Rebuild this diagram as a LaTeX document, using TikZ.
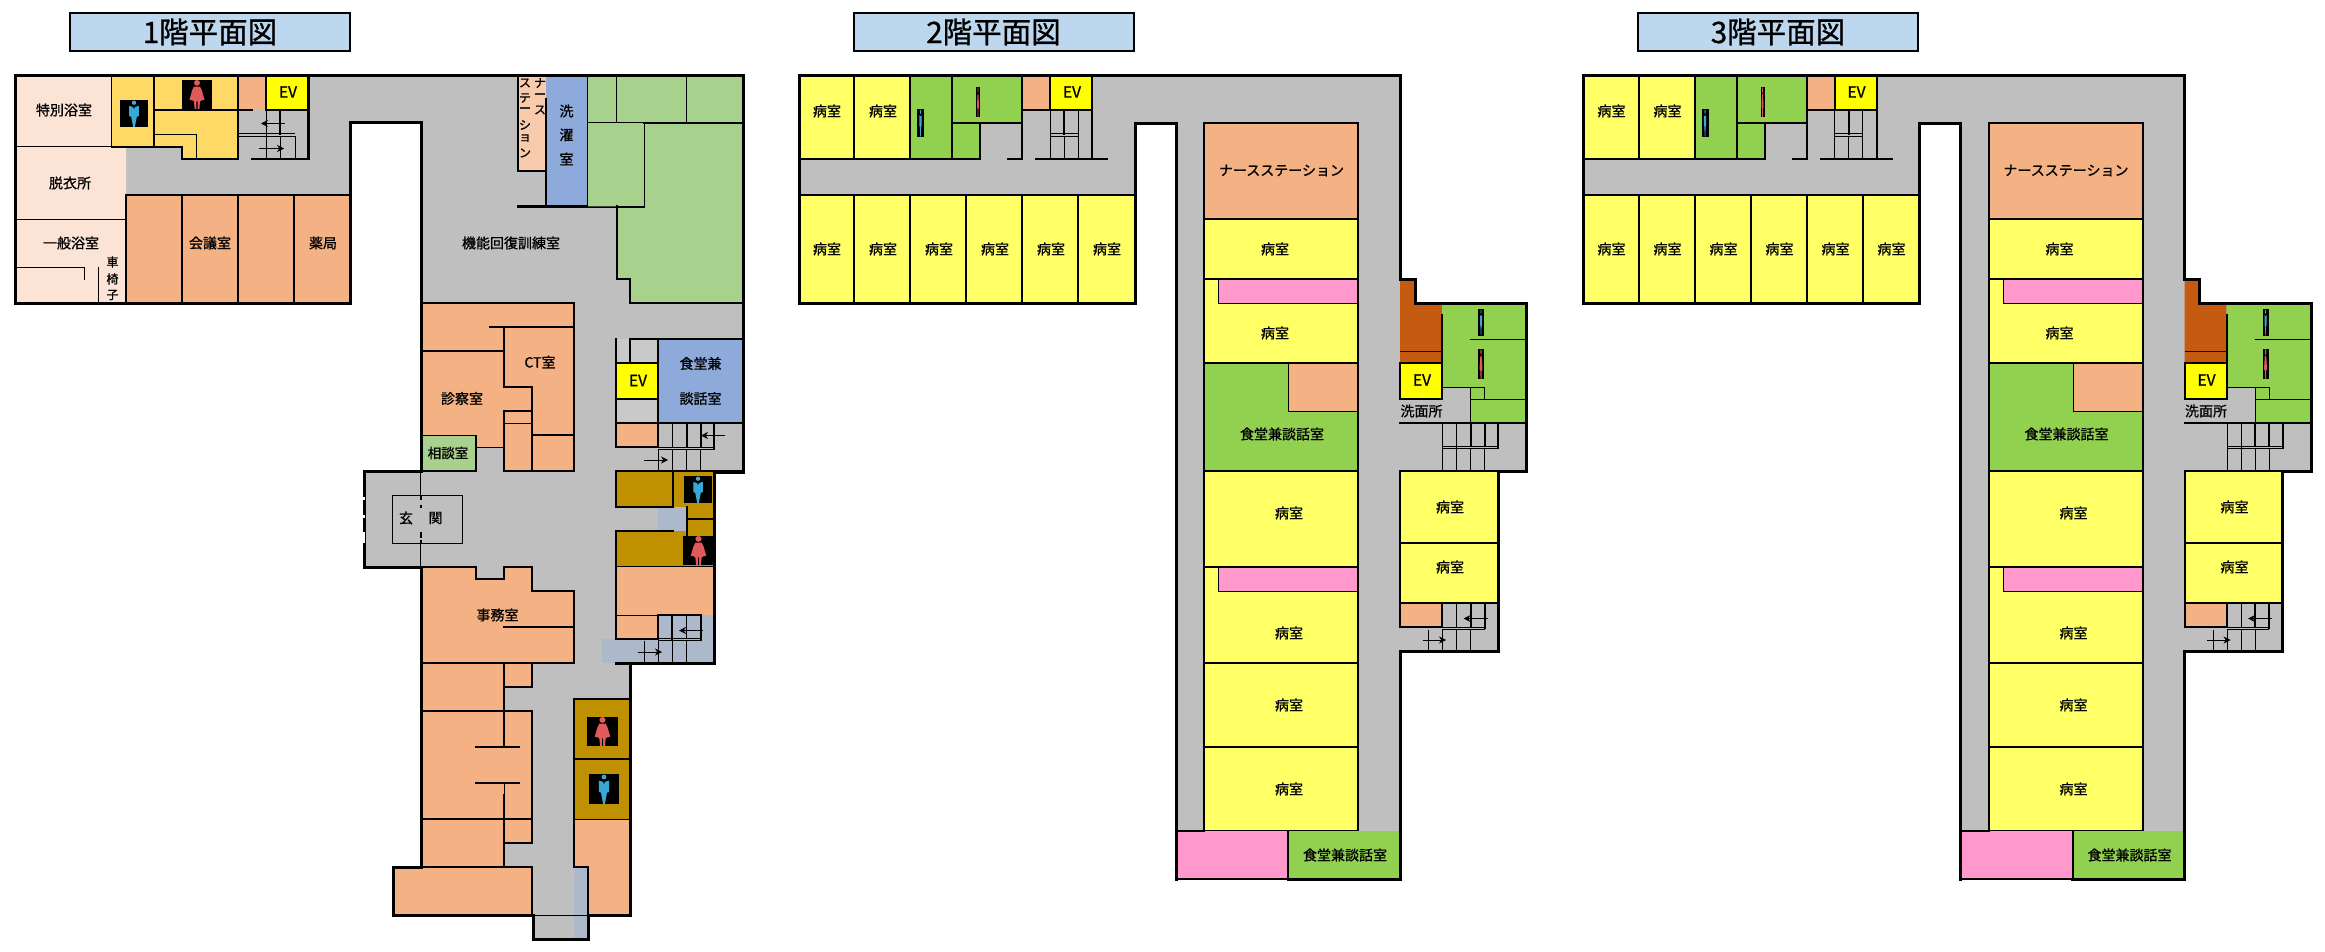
\documentclass[tikz,border=0pt]{standalone}
\usepackage{fontspec}
\setmainfont{Noto Sans CJK JP}[FakeBold=0.9]
\usetikzlibrary{arrows.meta}
\definecolor{corridor}{HTML}{BFBFBF}
\definecolor{lightcorr}{HTML}{C9C9C9}
\definecolor{peach}{HTML}{F4B183}
\definecolor{palepeach}{HTML}{F8CBAD}
\definecolor{bathpink}{HTML}{FBE3D6}
\definecolor{wcyellow}{HTML}{FFD966}
\definecolor{wardyellow}{HTML}{FFFF66}
\definecolor{evyellow}{HTML}{FFFF00}
\definecolor{sagegreen}{HTML}{A9D18E}
\definecolor{brightgreen}{HTML}{92D050}
\definecolor{bluegroup}{HTML}{8EAADB}
\definecolor{stairblue}{HTML}{ADB9CA}
\definecolor{wcbrown}{HTML}{BF9000}
\definecolor{rust}{HTML}{C55A11}
\definecolor{rosepink}{HTML}{FF99CC}
\definecolor{titleblue}{HTML}{BDD7EE}
\definecolor{manblue}{HTML}{3AA8D4}
\definecolor{womanred}{HTML}{E05A5A}
\tikzset{
	wall/.style={line width=3pt,line cap=rect},
	partition/.style={line width=2pt,line cap=rect},
	hair/.style={line width=1pt},
	roomlabel/.style={inner sep=0pt,font=\fontsize{14}{16}\selectfont},
	smalllabel/.style={inner sep=0pt,font=\fontsize{12}{14}\selectfont},
	evlabel/.style={inner sep=0pt,font=\fontsize{15.5}{17}\selectfont},
	titlebox/.style={draw,line width=2pt,fill=titleblue,minimum width=280pt,minimum height=38pt,inner sep=0pt,font=\fontsize{29.5}{32}\selectfont},
	walkdir/.style={line width=0.8pt,-{Stealth[length=7pt,width=7pt]}},
}
% x, y, width, height of the black plate
\newcommand{\manicon}[4]{
	\fill[black] (#1,#2) rectangle ++(#3,#4);
	\begin{scope}[shift={(#1,#2)},xscale=#3,yscale=#4]
		\fill[manblue] (0.5,0.1) circle (0.08);
		\fill[manblue] (0.33,0.22)--(0.47,0.26)--(0.5,0.36)--(0.53,0.26)--(0.67,0.22)--(0.67,0.6)--(0.6,0.62)--(0.53,1)--(0.47,1)--(0.4,0.62)--(0.33,0.6)--cycle;
	\end{scope}
}
\newcommand{\womanicon}[4]{
	\fill[black] (#1,#2) rectangle ++(#3,#4);
	\begin{scope}[shift={(#1,#2)},xscale=#3,yscale=#4]
		\fill[womanred] (0.5,0.1) circle (0.1);
		\fill[womanred] (0.4,0.23)--(0.6,0.23)--(0.66,0.35)--(0.75,0.68)--(0.66,0.7)--(0.6,0.74)--(0.58,1)--(0.52,1)--(0.52,0.74)--(0.48,0.74)--(0.48,1)--(0.42,1)--(0.4,0.74)--(0.34,0.7)--(0.25,0.68)--(0.34,0.35)--cycle;
	\end{scope}
}
\begin{document}
\begin{tikzpicture}[x=1pt,y=-1pt]
	\useasboundingbox (0,0) rectangle (2325,952);
	% first floor
	\node[titlebox] (title1) at (210,32) {1階平面図};
	\fill[corridor] (15,76)--(743,76)--(743,472)--(714,472)--(714,663)--(630,663)--(630,915)--(588,915)--(588,939)--(533,939)--(533,915)--(393,915)--(393,867)--(421,867)--(421,567)--(364,567)--(364,471)--(421,471)--(421,123)--(350,123)--(350,303)--(15,303)--cycle;
	% baths
	\fill[bathpink] (15,76)--(112,76)--(112,147)--(126,147)--(126,303)--(15,303)--cycle;
	\draw[partition] (112,76)--(112,147);
	\draw[hair] (15,147)--(126,147);
	\draw[hair] (15,219.5)--(126,219.5);
	\draw[hair] (15,267)--(84.5,267)--(84.5,280);
	\draw[hair] (98.5,267)--(98.5,303);
	\node[roomlabel] (bath1) at (64,110) {特別浴室};
	\node[roomlabel] (undress) at (70,183) {脱衣所};
	\node[roomlabel] (bath2) at (71,243) {一般浴室};
	\node[smalllabel] (wheel1) at (112.5,262) {車};
	\node[smalllabel] (wheel2) at (112.5,279) {椅};
	\node[smalllabel] (wheel3) at (112.5,295) {子};
	% toilets and lift at the top
	\fill[wcyellow] (112,76)--(238,76)--(238,159)--(182,159)--(182,147)--(112,147)--cycle;
	\fill[peach] (238,76) rectangle (266,110);
	\fill[evyellow] (266,76) rectangle (308,110);
	\draw[partition] (126,147)--(182,147)--(182,159)--(238,159)--(238,76);
	\draw[partition] (154,76)--(154,147);
	\draw[partition] (154,110)--(252,110);
	\draw[partition] (112,147)--(126,147);
	\draw[hair] (155,135)--(196.5,135)--(196.5,158);
	\draw[partition] (266,76)--(266,110)--(308,110);
	\manicon{120}{100}{28}{27}
	\womanicon{182}{80}{30}{29}
	\node[evlabel] (ev1a) at (288,92) {EV};
	% stairs at the top
	\draw[partition] (280,110)--(280,134);
	\draw[hair] (280,136)--(280,159);
	\draw[hair] (266,110)--(266,159);
	\draw[hair] (238,134)--(295,134);
	\draw[hair] (238,136.5)--(295,136.5)--(295,159);
	\draw[wall] (308,76)--(308,159);
	\draw[partition] (252,159)--(308,159);
	\coordinate (up1a) at (285,123.5);
	\coordinate (up1b) at (261,123.5);
	\coordinate (dn1a) at (259,148.5);
	\coordinate (dn1b) at (284,148.5);
	\draw[walkdir] (up1a)--(up1b);
	\draw[walkdir] (dn1a)--(dn1b);
	% west rooms
	\fill[peach] (126,195) rectangle (350,303);
	\draw[partition] (126,195)--(350,195);
	\draw[partition] (126,195)--(126,303);
	\draw[partition] (182,195)--(182,303);
	\draw[partition] (238,195)--(238,303);
	\draw[partition] (294,195)--(294,303);
	\node[roomlabel] (meeting) at (210,243) {会議室};
	\node[roomlabel] (pharmacy) at (323,243) {薬局};
	% nurse station and laundry
	\fill[palepeach] (518,76) rectangle (546,171);
	\draw[partition] (518,76)--(518,171)--(546,171);
	\fill[bluegroup] (546,76) rectangle (588,206.5);
	\draw[partition] (546,99)--(546,206.5);
	\draw[partition] (588,76)--(588,206.5);
	\draw[partition] (518,206.5)--(616.5,206.5);
	\node[smalllabel] (ns1) at (540,83) {ナ};
	\node[smalllabel] (ns2) at (540,96) {ー};
	\node[smalllabel] (ns3) at (540,110) {ス};
	\node[smalllabel] (ns4) at (525,83) {ス};
	\node[smalllabel] (ns5) at (525,98) {テ};
	\node[smalllabel] (ns6) at (525,110) {ー};
	\node[smalllabel] (ns7) at (525,125) {シ};
	\node[smalllabel] (ns8) at (525,138) {ョ};
	\node[smalllabel] (ns9) at (525,153) {ン};
	\node[roomlabel] (wash1) at (566.5,111) {洗};
	\node[roomlabel] (wash2) at (566.5,135) {濯};
	\node[roomlabel] (wash3) at (566.5,159) {室};
	\node[roomlabel] (rehab) at (511,243) {機能回復訓練室};
	% north east green block
	\fill[sagegreen] (588,76)--(743,76)--(743,303)--(630,303)--(630,279)--(616.5,279)--(616.5,206.5)--(588,206.5)--cycle;
	\draw[partition] (616.5,206.5)--(616.5,279)--(630,279)--(630,303)--(743,303);
	\draw[hair] (616.5,76)--(616.5,123);
	\draw[hair] (686.5,76)--(686.5,123);
	\draw[hair] (588,123)--(644,123)--(644,207)--(617,207);
	\draw[partition] (644,123)--(743,123);
	% CT and consulting block
	\fill[peach] (421,303)--(574,303)--(574,471)--(504,471)--(504,447)--(476,447)--(476,435)--(421,435)--cycle;
	\fill[sagegreen] (421,435.5) rectangle (476,471);
	\draw[partition] (421,303)--(574,303)--(574,471)--(504,471)--(504,411)--(532,411);
	\draw[partition] (490,326.5)--(574,326.5);
	\draw[partition] (504,326.5)--(504,387)--(532,387)--(532,471);
	\draw[partition] (421,351)--(504,351);
	\draw[partition] (532,435)--(574,435);
	\draw[hair] (504,423.5)--(532,423.5);
	\draw[hair] (421,435.5)--(476,435.5);
	\draw[partition] (476,435.5)--(476,471);
	\draw[hair] (476,447)--(504,447);
	\draw[partition] (421,471)--(476,471);
	\node[roomlabel] (ct) at (540,362) {CT室};
	\node[roomlabel] (exam) at (462,398.5) {診察室};
	\node[roomlabel,font=\fontsize{13.5}{15}\selectfont] (consult) at (448,453) {相談室};
	% entrance
	\draw[hair] (392,495) rectangle (462.5,543.5);
	\draw[hair] (420.5,471)--(420.5,496);
	\draw[line width=2pt] (420.5,496)--(420.5,500);
	\draw[line width=2pt] (420.5,505)--(420.5,508);
	\draw[line width=2pt] (420.5,532)--(420.5,538);
	\draw[line width=2pt] (420.5,540)--(420.5,543);
	\draw[hair] (420.5,543)--(420.5,567);
	\node[roomlabel] (hall1) at (406,518) {玄};
	\node[roomlabel] (hall2) at (435.5,518) {関};
	% office
	\fill[peach] (421,567)--(476,567)--(476,579)--(504,579)--(504,567)--(532,567)--(532,591)--(574,591)--(574,663)--(421,663)--cycle;
	\draw[partition] (421,567)--(476,567)--(476,579)--(504,579)--(504,567)--(532,567)--(532,591)--(574,591)--(574,663);
	\draw[partition] (504,627)--(574,627);
	\node[roomlabel] (office) at (497.5,615) {事務室};
	% south west rooms
	\fill[peach] (421,663)--(532,663)--(532,687)--(504,687)--(504,711)--(532,711)--(532,843)--(504,843)--(504,867)--(532,867)--(532,915)--(393,915)--(393,867)--(421,867)--cycle;
	\draw[partition] (421,663)--(574,663);
	\draw[partition] (532,663)--(532,687)--(504,687);
	\draw[partition] (504,663)--(504,747);
	\draw[partition] (421,711)--(532,711)--(532,843)--(504,843);
	\draw[partition] (476,747)--(519,747);
	\draw[partition] (476,783)--(519,783);
	\draw[hair] (504,783)--(504,795);
	\draw[partition] (504,795)--(504,867);
	\draw[partition] (421,819)--(532,819);
	\draw[partition] (421,867)--(532,867)--(532,915);
	% toilets south
	\fill[wcbrown] (574,699) rectangle (630,819);
	\fill[peach] (574,819)--(630,819)--(630,915)--(588,915)--(588,867)--(574,867)--cycle;
	\fill[stairblue] (574,867) rectangle (588,939);
	\draw[partition] (574,699)--(630,699);
	\draw[partition] (574,699)--(574,867)--(588,867)--(588,939);
	\draw[partition] (574,758.5)--(630,758.5);
	\draw[hair] (574,819)--(630,819);
	\draw[hair] (533,915)--(588,915);
	\womanicon{587}{717}{31}{29}
	\manicon{589}{774}{30}{30}
	% east middle rooms
	\fill[lightcorr] (616,339) rectangle (658,363);
	\fill[lightcorr] (616,399) rectangle (658,423);
	\fill[peach] (616,423) rectangle (658,447);
	\fill[evyellow] (616,363) rectangle (658,399);
	\fill[bluegroup] (658,339) rectangle (743,423);
	\draw[partition] (616,339)--(616,447)--(658,447);
	\draw[partition] (630,339)--(743,339);
	\draw[partition] (630,339)--(630,363);
	\draw[partition] (616,363)--(658,363);
	\draw[partition] (616,399)--(658,399);
	\draw[partition] (658,339)--(658,447);
	\draw[partition] (616,423)--(743,423);
	\node[evlabel] (ev1b) at (638,380.5) {EV};
	\node[roomlabel] (dining1) at (700.5,363.5) {食堂兼};
	\node[roomlabel] (dining2) at (700.5,398.5) {談話室};
	% stairs east
	\draw[hair] (672.5,423)--(672.5,447);
	\draw[partition] (686.5,423)--(686.5,447);
	\draw[partition] (700.5,423)--(700.5,447);
	\draw[partition] (714,423)--(714,449);
	\draw[hair] (658,447)--(714,447);
	\draw[hair] (658,449.5)--(714,449.5);
	\draw[hair] (658,449.5)--(658,471);
	\draw[hair] (672.5,449.5)--(672.5,471);
	\draw[hair] (686.5,449.5)--(686.5,471);
	\draw[hair] (700.5,449.5)--(700.5,471);
	\coordinate (up2a) at (725,435.5);
	\coordinate (up2b) at (701,435.5);
	\coordinate (dn2a) at (644,460);
	\coordinate (dn2b) at (668,460);
	\draw[walkdir] (up2a)--(up2b);
	\draw[walkdir] (dn2a)--(dn2b);
	% toilets east
	\fill[wcbrown] (616,471)--(714,471)--(714,567)--(616,567)--(616,531)--(686,531)--(686,507)--(616,507)--cycle;
	\fill[stairblue] (658,507) rectangle (686,531);
	\draw[partition] (616,471)--(742,471);
	\draw[partition] (616,471)--(616,507)--(672.5,507)--(672.5,471);
	\draw[partition] (616,531)--(672.5,531);
	\draw[partition] (616,531)--(616,567);
	\draw[partition] (686.5,507)--(686.5,536);
	\draw[partition] (686.5,519)--(714,519);
	\draw[partition] (616,567)--(714,567);
	\manicon{684}{476}{28}{27}
	\womanicon{683}{536}{31}{29}
	% stairs south east
	\fill[peach] (616,567) rectangle (714,615);
	\fill[peach] (616,615) rectangle (658,639);
	\fill[stairblue] (658,615) rectangle (714,663);
	\fill[stairblue] (602,639) rectangle (658,663);
	\draw[partition] (616,567)--(616,639)--(658,639)--(658,615);
	\draw[hair] (616,615)--(658,615);
	\draw[partition] (658,615)--(700.5,615);
	\draw[partition] (700.5,615)--(700.5,640);
	\draw[partition] (672,615)--(672,639);
	\draw[hair] (686.5,615)--(686.5,639);
	\draw[hair] (658,638)--(700.5,638);
	\draw[hair] (658,640.5)--(700.5,640.5);
	\draw[hair] (644.5,640.5)--(644.5,663);
	\draw[hair] (658.5,640.5)--(658.5,663);
	\draw[hair] (672.5,640.5)--(672.5,663);
	\draw[hair] (686.5,640.5)--(686.5,663);
	\coordinate (up3a) at (703,630.5);
	\coordinate (up3b) at (679,630.5);
	\coordinate (dn3a) at (638,652);
	\coordinate (dn3b) at (662,652);
	\draw[walkdir] (up3a)--(up3b);
	\draw[walkdir] (dn3a)--(dn3b);
	% outer wall of the first floor
	\draw[wall] (616,663)--(714,663)--(714,472)--(743,472)--(743,76)--(15,76)--(15,303)--(350,303)--(350,123)--(421,123)--(421,471)--(364,471)--(364,567)--(421,567)--(421,867)--(393,867)--(393,915)--(533,915)--(533,939)--(588,939)--(588,915)--(630,915)--(630,663);
	\draw[white,line width=3.5pt] (363.5,497)--(363.5,500);
	\draw[white,line width=3.5pt] (363.5,515)--(363.5,518);
	\draw[white,line width=3.5pt] (363.5,532)--(363.5,543);
	% upper floors
	\foreach \dx/\fl in {0/2,784.5/3}{
	\begin{scope}[shift={(\dx,0)}]
		\node[titlebox] (title\fl) at (993.5,32) {\fl 階平面図};
		\fill[corridor] (799,76)--(1400,76)--(1400,279)--(1415,279)--(1415,303)--(1526.5,303)--(1526.5,471)--(1498,471)--(1498,651)--(1400,651)--(1400,879)--(1176,879)--(1176,123.5)--(1135,123.5)--(1135,303)--(799,303)--cycle;
		% west wing, top row
		\fill[wardyellow] (799,76) rectangle (910,159);
		\fill[brightgreen] (910,76)--(1022,76)--(1022,123)--(980,123)--(980,159)--(910,159)--cycle;
		\fill[peach] (1022,76) rectangle (1050,110);
		\fill[evyellow] (1050,76) rectangle (1092,110);
		\draw[partition] (799,159)--(980,159)--(980,123);
		\draw[partition] (854,76)--(854,159);
		\draw[partition] (910,76)--(910,159);
		\draw[partition] (952,76)--(952,159);
		\draw[partition] (952,123)--(1022,123);
		\draw[partition] (1022,76)--(1022,159)--(1008,159);
		\draw[partition] (1022,110)--(1092,110);
		\draw[partition] (1050,76)--(1050,110);
		\draw[partition] (1092,76)--(1092,159);
		\draw[partition] (1036,159)--(1107,159);
		\draw[hair] (1050,110)--(1050,159);
		\draw[partition] (1064,110)--(1064,134);
		\draw[hair] (1064,137)--(1064,159);
		\draw[hair] (1078,110)--(1078,159);
		\draw[hair] (1050,134)--(1078,134);
		\draw[hair] (1050,137)--(1078,137);
		\manicon{917}{109}{7}{28}
		\womanicon{976}{87}{4}{30}
		\node[evlabel] (ev\fl a) at (1072,92) {EV};
		\node[roomlabel] (ward\fl a) at (827,111) {病室};
		\node[roomlabel] (ward\fl b) at (883,111) {病室};
		% west wing, bottom row
		\fill[wardyellow] (799,195) rectangle (1135,303);
		\draw[partition] (799,195)--(1135,195);
		\draw[partition] (854,195)--(854,303);
		\draw[partition] (910,195)--(910,303);
		\draw[partition] (966,195)--(966,303);
		\draw[partition] (1022,195)--(1022,303);
		\draw[partition] (1078,195)--(1078,303);
		\node[roomlabel] (ward\fl c) at (827,249) {病室};
		\node[roomlabel] (ward\fl d) at (883,249) {病室};
		\node[roomlabel] (ward\fl e) at (939,249) {病室};
		\node[roomlabel] (ward\fl f) at (995,249) {病室};
		\node[roomlabel] (ward\fl g) at (1051,249) {病室};
		\node[roomlabel] (ward\fl h) at (1107,249) {病室};
		% middle column
		\fill[peach] (1204,123) rectangle (1358,219);
		\fill[wardyellow] (1204,219) rectangle (1358,363);
		\fill[rosepink] (1218.5,279) rectangle (1358,303);
		\fill[brightgreen] (1204,363) rectangle (1358,471);
		\fill[peach] (1288.5,363) rectangle (1358,411.5);
		\fill[wardyellow] (1204,471) rectangle (1358,831);
		\fill[rosepink] (1218.5,567) rectangle (1358,591);
		\draw[hair] (1218.5,279)--(1218.5,303)--(1358,303);
		\draw[hair] (1288.5,363)--(1288.5,411.5)--(1358,411.5);
		\draw[hair] (1218.5,567)--(1218.5,591)--(1358,591);
		\draw[partition] (1204,123) rectangle (1358,831);
		\draw[partition] (1204,219)--(1358,219);
		\draw[partition] (1204,279)--(1358,279);
		\draw[partition] (1204,363)--(1358,363);
		\draw[partition] (1204,471)--(1358,471);
		\draw[partition] (1204,567)--(1358,567);
		\draw[partition] (1204,663)--(1358,663);
		\draw[partition] (1204,747)--(1358,747);
		\node[roomlabel] (station\fl) at (1281.5,170.5) {ナースステーション};
		\node[roomlabel] (ward\fl i) at (1275,249) {病室};
		\node[roomlabel] (ward\fl j) at (1275,333) {病室};
		\node[roomlabel] (dining\fl a) at (1282,434) {食堂兼談話室};
		\node[roomlabel] (ward\fl k) at (1289,513) {病室};
		\node[roomlabel] (ward\fl l) at (1289,633) {病室};
		\node[roomlabel] (ward\fl m) at (1289,705) {病室};
		\node[roomlabel] (ward\fl n) at (1289,789) {病室};
		% south end
		\fill[rosepink] (1176,831) rectangle (1288,879);
		\fill[brightgreen] (1288,831) rectangle (1400,879);
		\draw[partition] (1176,831)--(1204,831);
		\draw[partition] (1288,831)--(1288,879);
		\node[roomlabel] (dining\fl b) at (1345,855) {食堂兼談話室};
		% east wing, lift and toilets
		\fill[rust] (1400,279)--(1415,279)--(1415,303)--(1442,303)--(1442,363)--(1400,363)--cycle;
		\fill[evyellow] (1400,363) rectangle (1442,399);
		\fill[brightgreen] (1442,303)--(1526.5,303)--(1526.5,423)--(1470.5,423)--(1470.5,387)--(1442,387)--cycle;
		\draw[hair] (1400,351)--(1442,351);
		\draw[partition] (1442,315)--(1442,399)--(1400,399)--(1400,363)--(1442,363);
		\draw[hair] (1470,339)--(1526.5,339);
		\draw[hair] (1442,387)--(1484.5,387)--(1484.5,399);
		\draw[hair] (1470.5,387)--(1470.5,423);
		\draw[hair] (1470.5,399)--(1526.5,399);
		\draw[partition] (1400,423)--(1526.5,423);
		\manicon{1478}{309}{6}{27}
		\womanicon{1478}{349}{6}{30}
		\node[evlabel] (ev\fl b) at (1422,380) {EV};
		\node[roomlabel] (basin\fl) at (1421.5,411) {洗面所};
		% east wing, upper stairs
		\draw[hair] (1442.5,423)--(1442.5,471);
		\draw[hair] (1456.5,423)--(1456.5,471);
		\draw[partition] (1470.5,423)--(1470.5,446);
		\draw[hair] (1470.5,448)--(1470.5,471);
		\draw[partition] (1484.5,423)--(1484.5,446);
		\draw[hair] (1484.5,448)--(1484.5,471);
		\draw[partition] (1498,423)--(1498,448);
		\draw[hair] (1442.5,446)--(1498,446);
		\draw[hair] (1442.5,448.5)--(1498,448.5);
		% east wing, rooms
		\fill[wardyellow] (1400,471) rectangle (1498,603);
		\fill[peach] (1400,603) rectangle (1442,627);
		\draw[partition] (1400,471)--(1400,627)--(1442,627)--(1442,603);
		\draw[partition] (1400,543)--(1498,543);
		\draw[partition] (1400,603)--(1498,603);
		\node[roomlabel] (ward\fl o) at (1450,507) {病室};
		\node[roomlabel] (ward\fl p) at (1450,567) {病室};
		% east wing, lower stairs
		\draw[hair] (1456.5,603)--(1456.5,627);
		\draw[partition] (1470.5,603)--(1470.5,627);
		\draw[partition] (1484.5,603)--(1484.5,628);
		\draw[hair] (1442,627)--(1484.5,627);
		\draw[hair] (1442,629.5)--(1484.5,629.5);
		\draw[hair] (1428.5,629.5)--(1428.5,651);
		\draw[hair] (1442.5,629.5)--(1442.5,651);
		\draw[hair] (1456.5,629.5)--(1456.5,651);
		\draw[hair] (1470.5,629.5)--(1470.5,651);
		\coordinate (up\fl a) at (1487.5,618.5);
		\coordinate (up\fl b) at (1463.5,618.5);
		\coordinate (dn\fl a) at (1422.5,640);
		\coordinate (dn\fl b) at (1446,640);
		\draw[walkdir] (up\fl a)--(up\fl b);
		\draw[walkdir] (dn\fl a)--(dn\fl b);
		% outer wall of the floor
		\draw[wall] (799,76)--(1400,76)--(1400,279)--(1415,279)--(1415,303)--(1526.5,303)--(1526.5,471)--(1498,471)--(1498,651)--(1400,651)--(1400,879)--(1288,879);
		\draw[partition] (1288,879)--(1176,879);
		\draw[wall] (1176,879)--(1176,123.5)--(1135,123.5)--(1135,303)--(799,303)--(799,76);
		\draw[partition] (1400,471)--(1526.5,471);
	\end{scope}
	}
\end{tikzpicture}
\end{document}
